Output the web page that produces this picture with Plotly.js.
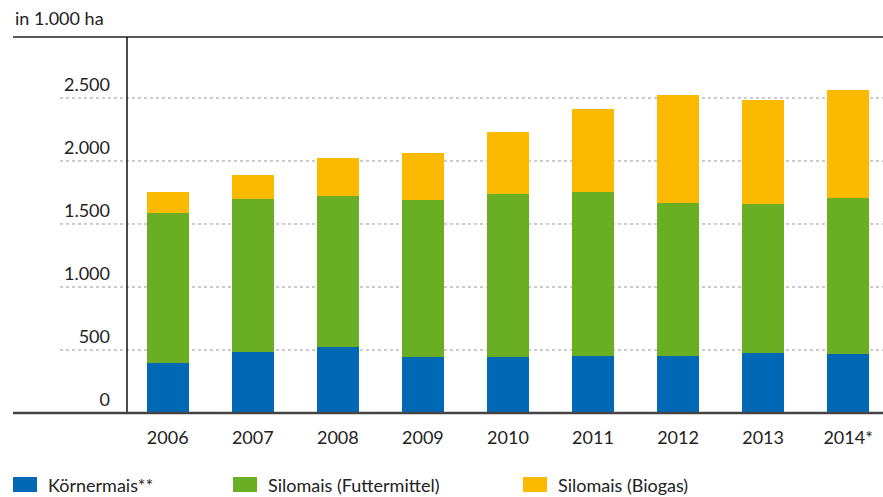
<!DOCTYPE html>
<html>
<head>
<meta charset="utf-8">
<script src="https://cdn.plot.ly/plotly-3.0.1.min.js"></script>
<style>html,body{margin:0;padding:0;background:#fff;}#chart{width:883px;height:497px;}</style>
</head>
<body>
<div id="chart"></div>
<script>
const years = ["2006","2007","2008","2009","2010","2011","2012","2013","2014*"];
const koernermais = [394, 482, 521, 447, 447, 450, 450, 479, 466];
const silomaisFutter = [1193, 1214, 1204, 1246, 1294, 1307, 1217, 1177, 1238];
const silomaisBiogas = [167, 195, 296, 370, 492, 653, 859, 831, 857];
const seriesNames = ["Körnermais**", "Silomais (Futtermittel)", "Silomais (Biogas)"];
const colors = ["#0068b4", "#69ae23", "#fbb900"];
const yTicks = [0, 500, 1000, 1500, 2000, 2500];
const yTickText = ["0", "500", "1.000", "1.500", "2.000", "2.500"];
const unitLabel = "in 1.000 ha";

const FONT = "Lato, 'Open Sans', sans-serif";
const seriesVals = [koernermais, silomaisFutter, silomaisBiogas];
const traces = seriesVals.map((v, i) => ({
  type: "bar", x: years, y: v, name: seriesNames[i],
  marker: {color: colors[i], line: {width: 0}},
  hoverinfo: "skip"
}));

const W = 756, L = 127;
const px = p => (p - L) / W;
const shapes = [];
yTicks.filter(t => t > 0).forEach(t => shapes.push({
  type: "line", xref: "paper", yref: "y", x0: px(60), x1: 1, y0: t, y1: t,
  line: {color: "#999", width: 1, dash: "dot"}, layer: "below"
}));
shapes.push({type: "line", xref: "paper", yref: "paper", x0: px(13), x1: 1, y0: 1, y1: 1, line: {color: "#222", width: 1.5}});
shapes.push({type: "line", xref: "paper", yref: "paper", x0: 0, x1: 0, y0: 0, y1: 1, line: {color: "#111", width: 1.5}});
shapes.push({type: "line", xref: "paper", yref: "paper", x0: px(13), x1: 1, y0: 0, y1: 0, line: {color: "#444", width: 2.5}});

// legend (manual)
const legX = [13, 233, 523];
const annotations = [{
  text: unitLabel, xref: "paper", yref: "paper", x: px(13), y: 1, yshift: 19,
  xanchor: "left", yanchor: "middle", showarrow: false, font: {family: FONT, size: 18, color: "#222"}
}];
seriesNames.forEach((n, i) => {
  shapes.push({type: "rect", xref: "paper", yref: "paper",
    x0: px(legX[i]), x1: px(legX[i] + 24), y0: -(477 - 413) / 376, y1: -(492 - 413) / 376,
    fillcolor: colors[i], line: {width: 0}});
  annotations.push({text: n, xref: "paper", yref: "paper", x: px(legX[i] + 33), y: -(484.5 - 413) / 376,
    xanchor: "left", yanchor: "middle", showarrow: false, font: {family: FONT, size: 18, color: "#222"}});
});

const layout = {
  width: 883, height: 497,
  margin: {l: L, r: 0, t: 37, b: 84},
  paper_bgcolor: "#fff", plot_bgcolor: "#fff",
  barmode: "stack", bargap: 0.506,
  showlegend: false,
  separators: ",.",
  font: {family: FONT, size: 18, color: "#222"},
  xaxis: {
    type: "category", range: [-0.479, 8.41], showgrid: false, zeroline: false,
    showline: false, ticks: "", ticklabelstandoff: 12, tickfont: {family: FONT, size: 18, color: "#222"}
  },
  yaxis: {
    range: [0, 2984], showgrid: false, zeroline: false, showline: false, ticks: "",
    tickvals: yTicks, ticktext: yTickText, ticklabelshift: -13, ticklabelstandoff: 16,
    tickfont: {family: FONT, size: 18, color: "#222"}
  },
  shapes: shapes,
  annotations: annotations
};
Plotly.newPlot("chart", traces, layout, {displayModeBar: false, staticPlot: true});
</script>
</body>
</html>
